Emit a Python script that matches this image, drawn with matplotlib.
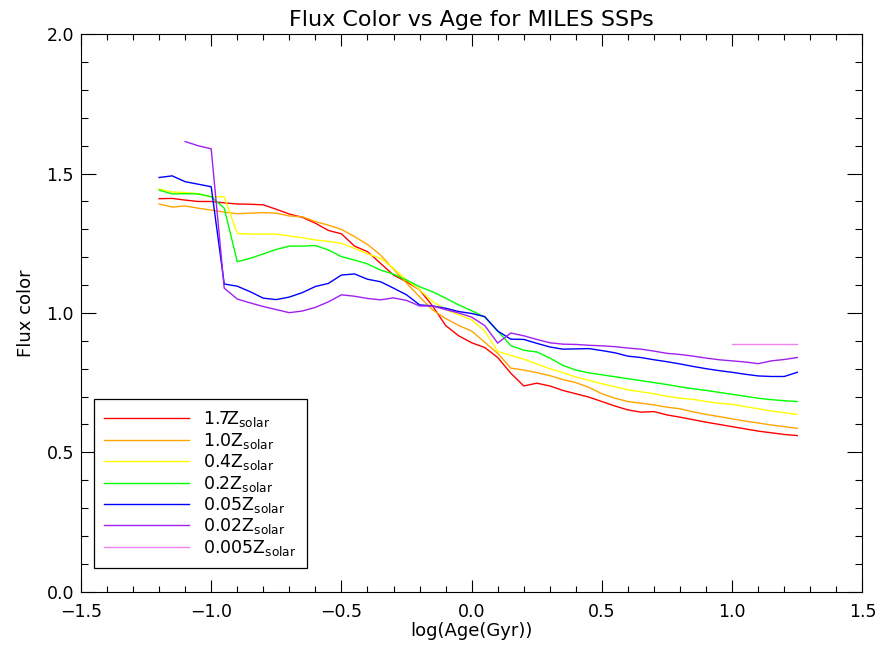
import matplotlib
matplotlib.use('Agg')
import matplotlib.pyplot as plt
from matplotlib.ticker import MultipleLocator, FuncFormatter

plt.rcParams['font.family'] = 'DejaVu Sans'
plt.rcParams['mathtext.fontset'] = 'custom'
plt.rcParams['mathtext.rm'] = 'DejaVu Sans'

# log(Age/Gyr) grid of the MILES SSPs
log_age = [-1.20, -1.15, -1.10, -1.05, -1.00, -0.95, -0.90, -0.85, -0.80, -0.75,
           -0.70, -0.65, -0.60, -0.55, -0.50, -0.45, -0.40, -0.35, -0.30, -0.25,
           -0.20, -0.15, -0.10, -0.05, 0.00, 0.05, 0.10, 0.15, 0.20, 0.25,
           0.30, 0.35, 0.40, 0.45, 0.50, 0.55, 0.60, 0.65, 0.70, 0.75,
           0.80, 0.85, 0.90, 0.95, 1.00, 1.05, 1.10, 1.15, 1.20, 1.25]

z17 = [1.410, 1.411, 1.405, 1.400, 1.400, 1.395, 1.391, 1.390, 1.388, 1.372,
       1.355, 1.343, 1.322, 1.296, 1.284, 1.240, 1.220, 1.178, 1.136, 1.112,
       1.083, 1.025, 0.955, 0.918, 0.893, 0.876, 0.840, 0.784, 0.738, 0.748,
       0.738, 0.722, 0.710, 0.698, 0.682, 0.666, 0.652, 0.644, 0.646, 0.634,
       0.626, 0.617, 0.608, 0.600, 0.592, 0.584, 0.576, 0.570, 0.564, 0.560]

z10 = [1.391, 1.380, 1.384, 1.376, 1.369, 1.362, 1.356, 1.358, 1.360, 1.358,
       1.348, 1.345, 1.328, 1.315, 1.300, 1.274, 1.246, 1.208, 1.157, 1.107,
       1.058, 1.011, 0.980, 0.955, 0.935, 0.895, 0.855, 0.802, 0.795, 0.786,
       0.775, 0.761, 0.750, 0.733, 0.710, 0.694, 0.682, 0.676, 0.670, 0.662,
       0.656, 0.645, 0.636, 0.628, 0.620, 0.612, 0.605, 0.598, 0.592, 0.586]

z04 = [1.445, 1.434, 1.432, 1.428, 1.417, 1.417, 1.285, 1.283, 1.283, 1.283,
       1.276, 1.270, 1.262, 1.257, 1.250, 1.232, 1.212, 1.196, 1.160, 1.118,
       1.083, 1.041, 1.012, 0.994, 0.975, 0.935, 0.862, 0.848, 0.834, 0.817,
       0.800, 0.786, 0.770, 0.758, 0.746, 0.735, 0.724, 0.717, 0.710, 0.701,
       0.694, 0.690, 0.682, 0.676, 0.672, 0.664, 0.656, 0.648, 0.642, 0.636]

z02 = [1.441, 1.427, 1.428, 1.427, 1.417, 1.376, 1.184, 1.196, 1.212, 1.228,
       1.240, 1.240, 1.242, 1.226, 1.202, 1.190, 1.176, 1.154, 1.139, 1.118,
       1.094, 1.076, 1.053, 1.029, 1.008, 0.985, 0.935, 0.883, 0.866, 0.860,
       0.838, 0.812, 0.795, 0.785, 0.778, 0.771, 0.764, 0.757, 0.750, 0.743,
       0.735, 0.728, 0.722, 0.715, 0.708, 0.701, 0.694, 0.689, 0.685, 0.682]

z005 = [1.486, 1.492, 1.471, 1.462, 1.453, 1.104, 1.096, 1.076, 1.053, 1.048,
        1.057, 1.073, 1.095, 1.106, 1.136, 1.140, 1.121, 1.112, 1.089, 1.065,
        1.029, 1.025, 1.017, 1.005, 0.998, 0.987, 0.935, 0.906, 0.905, 0.891,
        0.878, 0.870, 0.871, 0.872, 0.865, 0.857, 0.845, 0.840, 0.832, 0.825,
        0.817, 0.808, 0.800, 0.793, 0.787, 0.780, 0.774, 0.772, 0.772, 0.787]

# the two lowest metallicities only exist for part of the age grid
log_age_002 = log_age[2:]
z002 = [1.615, 1.600, 1.589, 1.089, 1.050, 1.036, 1.023, 1.012,
        1.001, 1.007, 1.020, 1.040, 1.065, 1.060, 1.052, 1.047, 1.054, 1.045,
        1.025, 1.025, 1.012, 1.000, 0.985, 0.955, 0.892, 0.928, 0.918, 0.905,
        0.893, 0.888, 0.887, 0.884, 0.882, 0.879, 0.874, 0.870, 0.863, 0.855,
        0.851, 0.845, 0.838, 0.832, 0.828, 0.824, 0.818, 0.828, 0.833, 0.840]

log_age_0005 = log_age[44:]
z0005 = [0.889, 0.889, 0.889, 0.889, 0.889, 0.889]

labels = ['1.7', '1.0', '0.4', '0.2', '0.05', '0.02', '0.005']
colors = ['#ff0000', '#ffa500', '#ffff00', '#00ff00', '#0000ff', '#a020f0', '#ee82ee']

fig = plt.figure(figsize=(8.8, 6.53), dpi=100)
ax = fig.add_axes([0.092, 0.094, 0.888, 0.8535])

series = [(log_age, z17), (log_age, z10), (log_age, z04), (log_age, z02),
          (log_age, z005), (log_age_002, z002), (log_age_0005, z0005)]
for (xs, ys), lab, col in zip(series, labels, colors):
    ax.plot(xs, ys, color=col, lw=1.0, label=lab + r'Z$_{\rm solar}$')

ax.set_xlim(-1.5, 1.5)
ax.set_ylim(0.0, 2.0)
ax.xaxis.set_major_locator(MultipleLocator(0.5))
ax.xaxis.set_minor_locator(MultipleLocator(0.1))
ax.yaxis.set_major_locator(MultipleLocator(0.5))
ax.yaxis.set_minor_locator(MultipleLocator(0.1))
fmt = FuncFormatter(lambda v, p: ('%.1f' % v).replace('-', '\u2212'))
ax.xaxis.set_major_formatter(fmt)
ax.yaxis.set_major_formatter(fmt)
ax.tick_params(which='both', direction='in', top=True, right=True, width=0.8,
               labelsize=12.5, colors='black')
ax.tick_params(axis='x', which='major', length=8.5, pad=8)
ax.tick_params(axis='x', which='minor', length=4.5)
ax.tick_params(axis='y', which='major', length=10.5, pad=5)
ax.tick_params(axis='y', which='minor', length=5)
for sp in ax.spines.values():
    sp.set_linewidth(0.8)

ax.set_title('Flux Color vs Age for MILES SSPs', fontsize=16, pad=6)
ax.set_xlabel('log(Age(Gyr))', fontsize=13, labelpad=1)
ax.set_ylabel('Flux color', fontsize=13, labelpad=8)

leg = ax.legend(loc='lower left', bbox_to_anchor=(0.0166, 0.042), borderaxespad=0,
                fontsize=12.5, handlelength=4.9, handletextpad=0.8, labelspacing=0.08,
                borderpad=0.6, fancybox=False, framealpha=1, edgecolor='black')
leg.get_frame().set_linewidth(0.9)

fig.savefig('out.png', dpi=100)
